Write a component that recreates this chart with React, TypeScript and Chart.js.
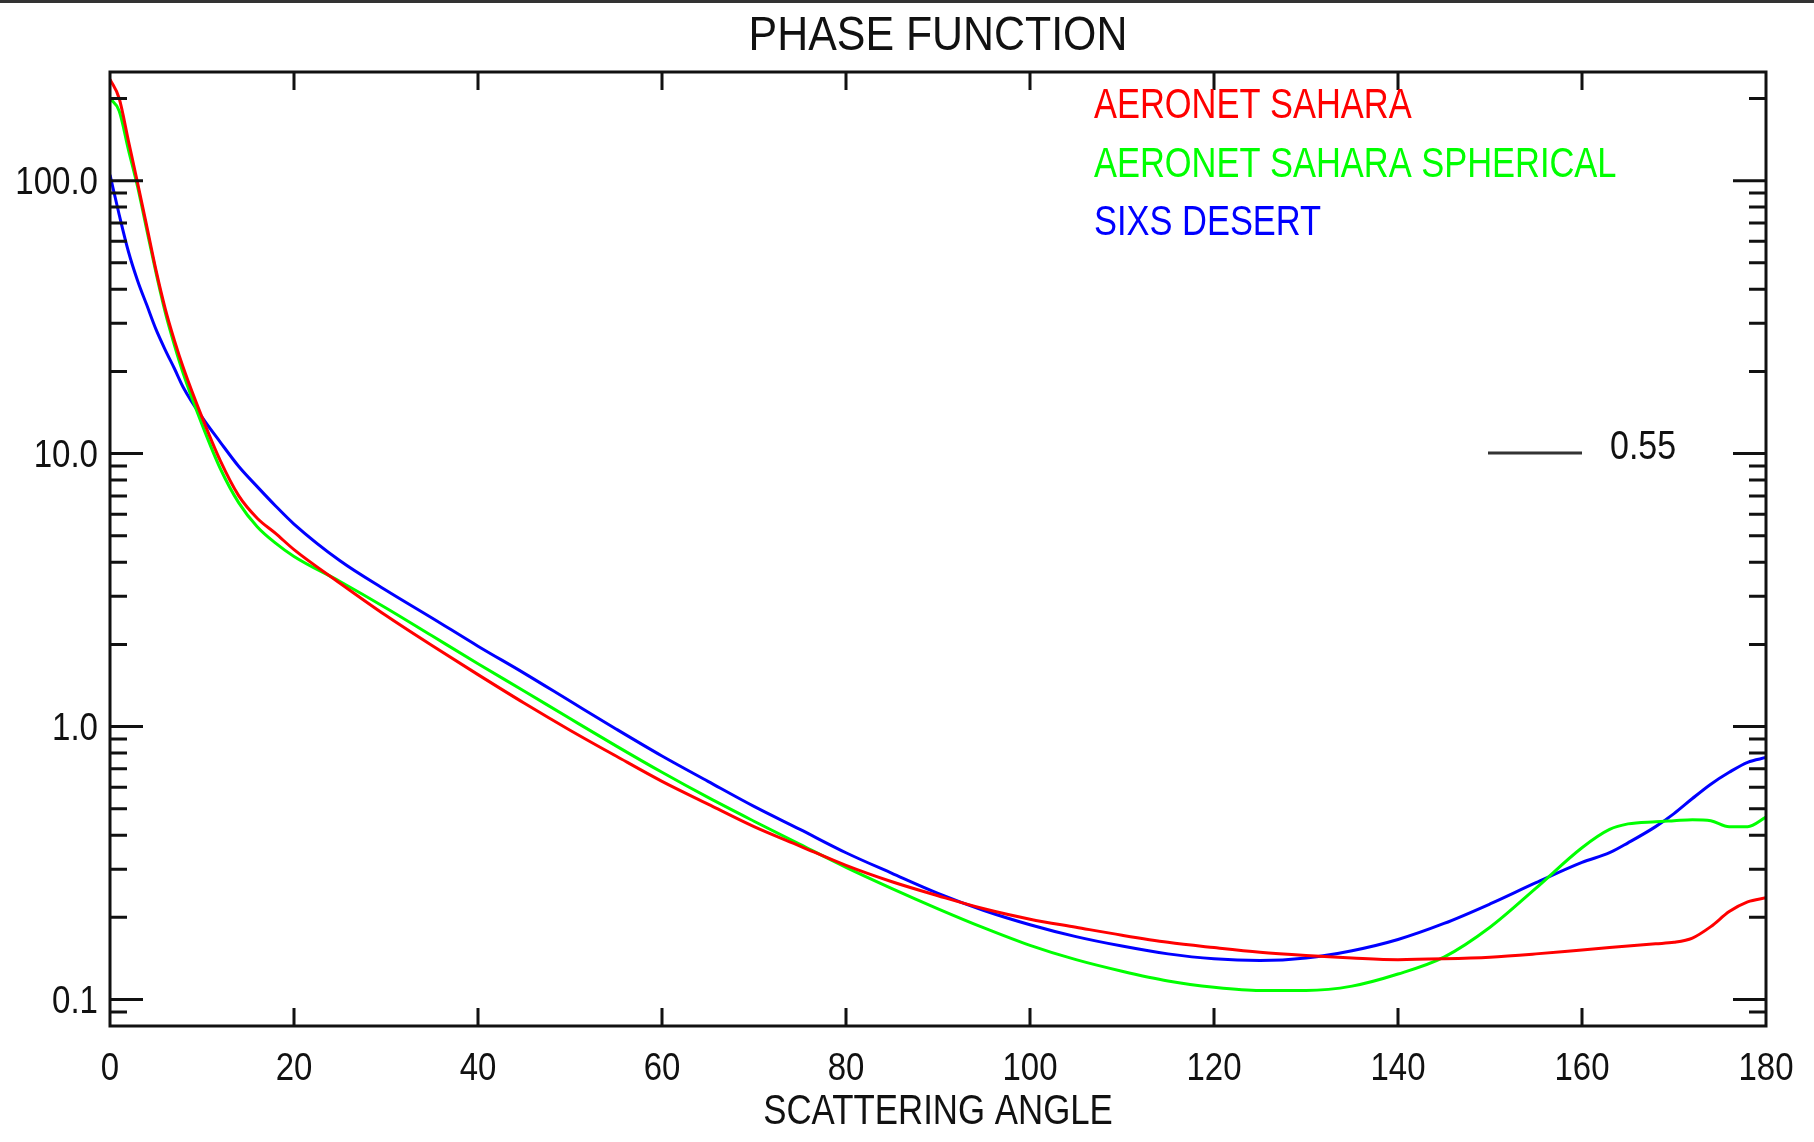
import React, { useEffect, useRef } from "react";
import { Chart, registerables } from "chart.js";

Chart.register(...registerables);

const FONT = "'Liberation Sans', Arial, Helvetica, sans-serif";

const TITLE = "PHASE FUNCTION";
const X_TITLE = "SCATTERING ANGLE";
const WAVELENGTH_LABEL = "0.55";

const ANGLES = [0, 1, 2, 3, 4, 5, 6, 7, 8, 10, 12, 14, 16, 18, 20, 25, 30, 35, 40, 45, 50, 55, 60, 65, 70, 75, 80, 85, 90, 95, 100, 105, 110, 115, 120, 125, 130, 135, 140, 145, 150, 155, 160, 163, 165, 168, 170, 172, 174, 176, 178, 180];

const AERONET_SAHARA = [235, 200, 140, 98, 68, 47, 34, 26, 20.5, 13.6, 9.4, 7.0, 5.8, 5.1, 4.45, 3.35, 2.55, 1.98, 1.55, 1.22, 0.97, 0.78, 0.63, 0.52, 0.43, 0.365, 0.31, 0.27, 0.24, 0.215, 0.197, 0.184, 0.172, 0.162, 0.155, 0.149, 0.145, 0.142, 0.14, 0.141, 0.143, 0.147, 0.152, 0.155, 0.157, 0.16, 0.162, 0.168, 0.185, 0.21, 0.228, 0.236];

const AERONET_SAHARA_SPHERICAL = [200, 180, 130, 95, 66, 46, 33, 25, 19.5, 12.8, 8.8, 6.6, 5.4, 4.7, 4.2, 3.4, 2.72, 2.15, 1.7, 1.35, 1.07, 0.85, 0.68, 0.55, 0.45, 0.37, 0.305, 0.255, 0.215, 0.183, 0.158, 0.14, 0.127, 0.117, 0.111, 0.108, 0.108, 0.112, 0.124, 0.143, 0.184, 0.256, 0.36, 0.42, 0.44, 0.448, 0.452, 0.456, 0.452, 0.43, 0.43, 0.466];

const SIXS_DESERT = [105, 75, 55, 43, 35, 28.5, 24, 20.5, 17.4, 13.6, 11.0, 8.97, 7.57, 6.43, 5.52, 4.05, 3.16, 2.5, 1.97, 1.57, 1.24, 0.98, 0.78, 0.63, 0.51, 0.42, 0.345, 0.29, 0.245, 0.212, 0.188, 0.17, 0.157, 0.147, 0.141, 0.139, 0.142, 0.151, 0.166, 0.19, 0.224, 0.268, 0.318, 0.345, 0.375, 0.43, 0.48, 0.545, 0.615, 0.68, 0.74, 0.77];

const SERIES_LABELS = ["AERONET SAHARA", "AERONET SAHARA SPHERICAL", "SIXS DESERT"];
const SERIES_COLORS = ["#ff0000", "#00ff00", "#0000ff"];

const X_MIN = 0;
const X_MAX = 180;
const X_TICKS = [0, 20, 40, 60, 80, 100, 120, 140, 160, 180];
const X_TICK_LABELS = ["0", "20", "40", "60", "80", "100", "120", "140", "160", "180"];
const Y_MIN = 0.08;
const Y_MAX = 250;
const Y_TICKS = [0.1, 1, 10, 100];
const Y_TICK_LABELS = ["0.1", "1.0", "10.0", "100.0"];
const Y_MINOR_TICKS = [0.09, 0.2, 0.3, 0.4, 0.5, 0.6, 0.7, 0.8, 0.9, 2, 3, 4, 5, 6, 7, 8, 9, 20, 30, 40, 50, 60, 70, 80, 90, 200];

const INK = "#111111";

// draws text in a horizontally condensed Helvetica-like face (like the IDL plot font)
function drawText(ctx: CanvasRenderingContext2D, text: string, x: number, y: number, size: number, sx: number, align: CanvasTextAlign, color: string) {
  ctx.save();
  ctx.font = `${size}px ${FONT}`;
  ctx.fillStyle = color;
  ctx.textAlign = align;
  ctx.textBaseline = "alphabetic";
  ctx.translate(x, y);
  ctx.scale(sx, 1);
  ctx.fillText(text, 0, 0);
  ctx.restore();
}

const framePlugin = {
  id: "idlFrame",
  afterDraw(chart: any) {
    const { ctx, chartArea: a, scales } = chart;
    const xs = scales.x;
    const ys = scales.y;
    ctx.save();
    ctx.strokeStyle = INK;
    ctx.lineWidth = 3;
    ctx.lineCap = "butt";
    ctx.beginPath();
    for (const t of xs.ticks) {
      const v = t.value;
      if (v <= X_MIN || v >= X_MAX) continue;
      const px = xs.getPixelForValue(v);
      ctx.moveTo(px, a.bottom);
      ctx.lineTo(px, a.bottom - 18);
      ctx.moveTo(px, a.top);
      ctx.lineTo(px, a.top + 18);
    }
    for (const t of ys.ticks) {
      const py = ys.getPixelForValue(t.value);
      ctx.moveTo(a.left, py);
      ctx.lineTo(a.left + 33, py);
      ctx.moveTo(a.right, py);
      ctx.lineTo(a.right - 33, py);
    }
    for (const v of Y_MINOR_TICKS) {
      const py = ys.getPixelForValue(v);
      ctx.moveTo(a.left, py);
      ctx.lineTo(a.left + 17, py);
      ctx.moveTo(a.right, py);
      ctx.lineTo(a.right - 17, py);
    }
    ctx.stroke();
    ctx.strokeRect(a.left, a.top, a.right - a.left, a.bottom - a.top);

    // tick labels
    xs.ticks.forEach((t: any) => {
      const i = X_TICKS.indexOf(t.value);
      if (i < 0) return;
      drawText(ctx, X_TICK_LABELS[i], xs.getPixelForValue(t.value), a.bottom + 54, 39, 0.845, "center", INK);
    });
    ys.ticks.forEach((t: any) => {
      const i = Y_TICKS.findIndex((v) => Math.abs(v - t.value) < 1e-9);
      if (i < 0) return;
      drawText(ctx, Y_TICK_LABELS[i], a.left - 12, ys.getPixelForValue(t.value) + 13.6, 38, 0.87, "right", INK);
    });

    // titles
    const cx = (a.left + a.right) / 2;
    drawText(ctx, TITLE, cx, a.top - 22, 49, 0.875, "center", INK);
    drawText(ctx, X_TITLE, cx, a.bottom + 98, 43, 0.81, "center", INK);

    // legend (coloured labels only)
    chart.data.datasets.forEach((ds: any, i: number) => {
      drawText(ctx, ds.label, a.left + 984, a.top + 46.3 + i * 58.3, 42, 0.82, "left", ds.borderColor);
    });

    // wavelength key
    ctx.strokeStyle = "#333333";
    ctx.lineWidth = 3;
    ctx.beginPath();
    ctx.moveTo(a.left + 1378, a.top + 381);
    ctx.lineTo(a.left + 1472, a.top + 381);
    ctx.stroke();
    drawText(ctx, WAVELENGTH_LABEL, a.left + 1500, a.top + 387, 40.5, 0.84, "left", INK);

    // dark strip along the top edge
    ctx.fillStyle = "#333333";
    ctx.fillRect(0, 0, chart.width, 3);
    ctx.restore();
  },
};

export default function App() {
  const ref = useRef<HTMLCanvasElement | null>(null);

  useEffect(() => {
    if (!ref.current) return;
    const series = [AERONET_SAHARA, AERONET_SAHARA_SPHERICAL, SIXS_DESERT];
    const chart = new Chart(ref.current, {
      type: "line",
      data: {
        datasets: series.map((vals, i) => ({
          label: SERIES_LABELS[i],
          data: ANGLES.map((a, j) => ({ x: a, y: vals[j] })),
          borderColor: SERIES_COLORS[i],
          backgroundColor: SERIES_COLORS[i],
          borderWidth: 3,
          pointRadius: 0,
          fill: false,
          cubicInterpolationMode: "monotone" as const,
        })),
      },
      options: {
        responsive: false,
        maintainAspectRatio: false,
        animation: false,
        events: [],
        layout: { padding: { left: 0, right: 48, top: 72, bottom: 0 } },
        plugins: {
          legend: { display: false },
          tooltip: { enabled: false },
          title: { display: false },
        },
        scales: {
          x: {
            type: "linear",
            min: X_MIN,
            max: X_MAX,
            afterBuildTicks: (s: any) => {
              s.ticks = X_TICKS.map((v) => ({ value: v }));
            },
            afterFit: (s: any) => {
              s.height = 116;
            },
            grid: { display: false, drawTicks: false },
            border: { display: false },
            ticks: { display: false },
            title: { display: false, text: X_TITLE },
          },
          y: {
            type: "logarithmic",
            min: Y_MIN,
            max: Y_MAX,
            afterBuildTicks: (s: any) => {
              s.ticks = Y_TICKS.map((v) => ({ value: v }));
            },
            afterFit: (s: any) => {
              s.width = 110;
            },
            grid: { display: false, drawTicks: false },
            border: { display: false },
            ticks: { display: false },
          },
        },
      },
      plugins: [framePlugin],
    });
    return () => chart.destroy();
  }, []);

  return (
    <div style={{ position: "fixed", left: 0, top: 0, width: 1814, height: 1142, background: "#ffffff", overflow: "hidden" }}>
      <canvas ref={ref} width={1814} height={1142} style={{ display: "block", width: 1814, height: 1142 }} />
    </div>
  );
}
